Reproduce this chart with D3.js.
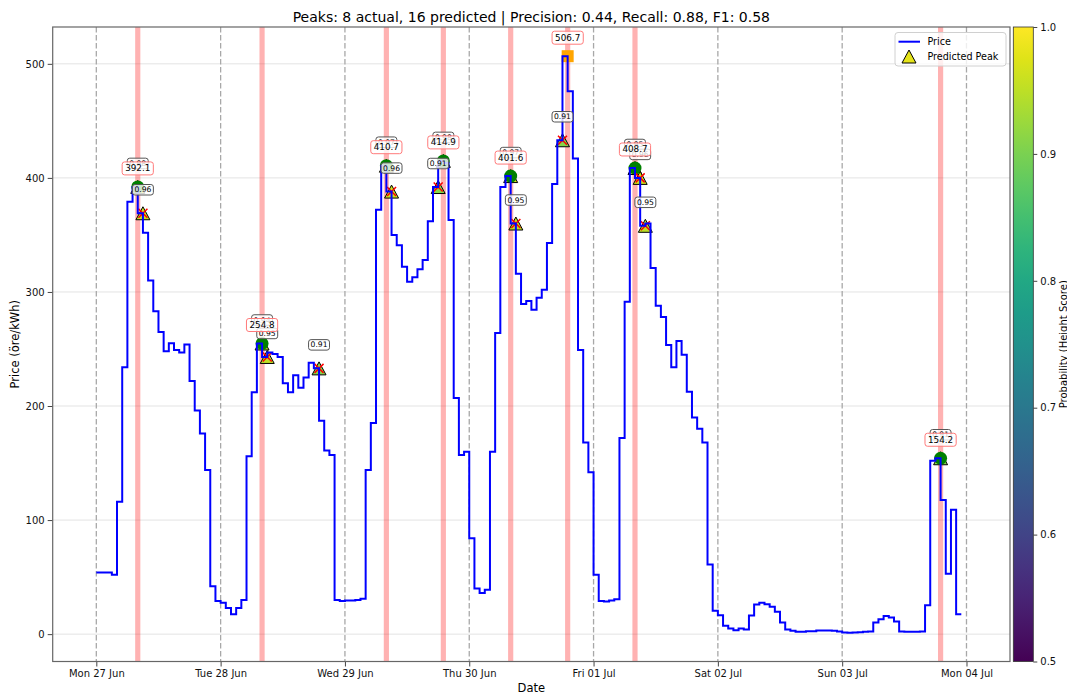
<!DOCTYPE html>
<html>
<head>
<meta charset="utf-8">
<script src="https://cdn.jsdelivr.net/npm/d3@7"></script>
<style>
  body { margin: 0; background: #fff; }
  text { font-family: "DejaVu Sans", sans-serif; }
</style>
</head>
<body>
<div id="chart"></div>
<script>
// size of the page / figure
const width = 1067
const height = 695

// hourly price (öre/kWh), Mon 27 Jun 00:00 .. Sun 03 Jul 23:00
const prices = [
  54, 54, 54, 54, 52, 116, 234, 379, 392.1, 369, 352, 310, 283, 265, 248, 255, 249, 247, 254, 222, 196, 176, 144, 42,
  29, 27.5, 23, 17.5, 23, 30, 156, 212, 254.8, 243, 247, 245.5, 243, 220, 212, 227, 216, 225, 238, 233, 187, 161, 157, 30,
  29, 29.5, 29.5, 30, 31, 144, 185, 372, 410.7, 388, 350, 341, 322, 309, 313, 320, 328, 362, 392, 414.9, 413, 363, 207, 157,
  160, 84, 40, 36, 39, 160, 264, 392, 401.6, 360, 316, 289.5, 292, 284.5, 295, 302, 343, 394.7, 433, 506.7, 476, 417, 249, 168,
  142, 52, 29, 28.5, 29.5, 30.5, 172, 291.5, 408.7, 400, 358, 360, 321, 288, 278, 253.5, 234, 257, 245, 212.5, 190, 180, 168, 61,
  20.5, 16.5, 7.3, 5, 3.5, 5, 4, 16.4, 26, 27.5, 26.3, 24, 19.6, 10.3, 4, 3, 2, 2, 2.6, 2.6, 3.2, 3.2, 3.1, 3.0,
  2.3, 1.5, 1.3, 1.5, 1.7, 2, 2.2, 10.3, 13, 16, 14.5, 11, 2.2, 2.0, 2.0, 2.1, 2.3, 25.4, 152, 154.2, 117.5, 53, 109, 17.5
]

// actual peaks (hour index) and whether they were found
const peakHours = [8, 32, 56, 67, 80, 91, 104, 163]
const peakFound = [true, true, true, true, true, false, true, true]

// predicted peaks (hour index), probability, and whether it hit an actual peak
const predHours = [8, 9, 32, 33, 43, 56, 57, 66, 67, 80, 81, 90, 104, 105, 106, 163]
const predProbs = [0.98, 0.96, 0.94, 0.95, 0.91, 0.97, 0.96, 0.91, 0.98, 0.97, 0.95, 0.91, 0.95, 0.96, 0.95, 0.91]
const predHit = [true, false, true, false, false, true, false, false, true, true, false, false, true, false, false, true]

// axis ticks
const yTicks = [0, 100, 200, 300, 400, 500]
const dayTicks = [0, 24, 48, 72, 96, 120, 144, 168]
const cbTicks = [0.5, 0.6, 0.7, 0.8, 0.9, 1.0]

const start = Date.UTC(2022, 5, 27)
const hourDate = h => new Date(start + h * 3600e3)

// plot box
const L = 52.7, R = 1010, T = 27, B = 661.5

var x = d3.scaleUtc()
  .domain([hourDate(-8.42), hourDate(176.4)])
  .range([L, R])
var y = d3.scaleLinear()
  .domain([-24, 532.3])
  .range([B, T])
var color = d3.scaleSequential(d3.interpolateViridis).domain([0.5, 1.0])

// metrics for the title
const tp = predHit.filter(d => d).length
const precision = tp / predHours.length
const recall = tp / peakHours.length
const f1 = 2 * precision * recall / (precision + recall)

var svg = d3.select("#chart").append("svg")
  .attr("width", width)
  .attr("height", height)

svg.append("rect").attr("width", width).attr("height", height).attr("fill", "white")

var clip = svg.append("clipPath").attr("id", "plotclip")
clip.append("rect").attr("x", L).attr("y", T).attr("width", R - L).attr("height", B - T)

var plot = svg.append("g").attr("clip-path", "url(#plotclip)")

// horizontal grid
plot.selectAll(".hgrid").data(yTicks).enter().append("line")
  .attr("x1", L).attr("x2", R)
  .attr("y1", d => y(d)).attr("y2", d => y(d))
  .attr("stroke", "#e3e3e3").attr("stroke-width", 1)

// red bands at actual peaks
plot.selectAll(".band").data(peakHours).enter().append("rect")
  .attr("x", d => x(hourDate(d - 0.5)))
  .attr("width", d => x(hourDate(d + 0.5)) - x(hourDate(d - 0.5)))
  .attr("y", T).attr("height", B - T)
  .attr("fill", "red").attr("fill-opacity", 0.3)

// predicted triangles
const tri = "M0,-6.5L7,6.5L-7,6.5Z"
plot.selectAll(".tri").data(predHours).enter().append("path")
  .attr("d", tri)
  .attr("transform", d => `translate(${x(hourDate(d))},${y(prices[d])})`)
  .attr("fill", (d, i) => color(predProbs[i]))
  .attr("stroke", "black").attr("stroke-width", 1)

// actual peak markers: green circle if found, orange square if missed
peakHours.forEach(function(h, i) {
  var px = x(hourDate(h)), py = y(prices[h])
  if (peakFound[i]) {
    plot.append("circle").attr("cx", px).attr("cy", py).attr("r", 6.5).attr("fill", "green")
  } else {
    plot.append("rect").attr("x", px - 6).attr("y", py - 6).attr("width", 12).attr("height", 12).attr("fill", "orange")
  }
})

// red x on false positives
predHours.forEach(function(h, i) {
  if (predHit[i]) return
  var px = x(hourDate(h)), py = y(prices[h])
  plot.append("path")
    .attr("d", `M${px - 4.5},${py - 4.5}L${px + 4.5},${py + 4.5}M${px - 4.5},${py + 4.5}L${px + 4.5},${py - 4.5}`)
    .attr("stroke", "red").attr("stroke-width", 1.5)
})

// day separators
plot.selectAll(".day").data(dayTicks).enter().append("line")
  .attr("x1", d => x(hourDate(d))).attr("x2", d => x(hourDate(d)))
  .attr("y1", T).attr("y2", B)
  .attr("stroke", "#a8a8a8").attr("stroke-width", 1.3).attr("stroke-dasharray", "5.5,2.5")

// price line
var line = d3.line()
  .x((d, i) => x(hourDate(i)))
  .y(d => y(d))
  .curve(d3.curveStepBefore)
plot.append("path").datum(prices)
  .attr("d", line)
  .attr("fill", "none").attr("stroke", "#0000ff").attr("stroke-width", 2)

// boxed labels
function boxLabel(g, cx, cy, txt, size, edge, padX, boxH) {
  var grp = g.append("g")
  var r = grp.append("rect")
  var t = grp.append("text")
    .attr("x", cx).attr("y", cy)
    .attr("text-anchor", "middle").attr("dominant-baseline", "central")
    .attr("font-size", size).attr("fill", "black")
    .text(txt)
  var w = t.node().getComputedTextLength() + padX * 2
  r.attr("x", cx - w / 2).attr("y", cy - boxH / 2)
    .attr("width", w).attr("height", boxH)
    .attr("rx", 2.5).attr("ry", 2.5)
    .attr("fill", "white").attr("fill-opacity", 0.8)
    .attr("stroke", edge).attr("stroke-width", 1)
}

var labels = svg.append("g")
predHours.forEach(function(h, i) {
  boxLabel(labels, x(hourDate(h)), y(prices[h]) - 23.5, predProbs[i].toFixed(2), 7.6, "#555", 2, 10.5)
})
peakHours.forEach(function(h) {
  boxLabel(labels, x(hourDate(h)), y(prices[h]) - 18.5, prices[h].toFixed(1), 8.8, "#ff7a7a", 3, 13)
})

// axes
var yAxis = svg.append("g").attr("transform", `translate(${L},0)`)
  .call(d3.axisLeft(y).tickValues(yTicks).tickSize(5).tickPadding(3))
var xAxis = svg.append("g").attr("transform", `translate(0,${B})`)
  .call(d3.axisBottom(x).tickValues(dayTicks.map(hourDate)).tickSize(5).tickPadding(3.5)
    .tickFormat(d3.utcFormat("%a %d %b")))
;[yAxis, xAxis].forEach(function(a) {
  a.select(".domain").remove()
  a.selectAll("line").attr("stroke", "#444").attr("stroke-width", 1)
  a.selectAll("text").attr("font-size", 10).attr("fill", "#111").attr("font-family", "DejaVu Sans")
})

// spines
svg.append("rect").attr("x", L).attr("y", T).attr("width", R - L).attr("height", B - T)
  .attr("fill", "none").attr("stroke", "#666").attr("stroke-width", 1.2)

// titles
svg.append("text").attr("x", (L + R) / 2).attr("y", 21.5).attr("text-anchor", "middle")
  .attr("font-size", 14).attr("fill", "black")
  .text(`Peaks: ${peakHours.length} actual, ${predHours.length} predicted | Precision: ${precision.toFixed(2)}, Recall: ${recall.toFixed(2)}, F1: ${f1.toFixed(2)}`)
svg.append("text").attr("x", (L + R) / 2).attr("y", 692).attr("text-anchor", "middle")
  .attr("font-size", 11.5).attr("fill", "black").text("Date")
svg.append("text").attr("transform", `translate(15,${(T + B) / 2}) rotate(-90)`).attr("text-anchor", "middle")
  .attr("dominant-baseline", "central")
  .attr("font-size", 11.5).attr("fill", "black").text("Price (öre/kWh)")

// legend
var lg = svg.append("g")
lg.append("rect").attr("x", 895).attr("y", 32.5).attr("width", 111).attr("height", 33.5)
  .attr("rx", 3).attr("fill", "white").attr("fill-opacity", 0.8).attr("stroke", "#d0d0d0")
lg.append("line").attr("x1", 898.5).attr("x2", 920).attr("y1", 41.7).attr("y2", 41.7)
  .attr("stroke", "#0000ff").attr("stroke-width", 2)
lg.append("path").attr("d", tri).attr("transform", "translate(909,56.5)")
  .attr("fill", color(predProbs[0])).attr("stroke", "black")
lg.append("text").attr("x", 927.5).attr("y", 41.7).attr("dominant-baseline", "central")
  .attr("font-size", 9.6).text("Price")
lg.append("text").attr("x", 927.5).attr("y", 56.7).attr("dominant-baseline", "central")
  .attr("font-size", 9.6).text("Predicted Peak")

// colorbar
const cbX = 1013.3, cbW = 20
var grad = svg.append("defs").append("linearGradient").attr("id", "vir")
  .attr("x1", 0).attr("y1", 1).attr("x2", 0).attr("y2", 0)
d3.range(0, 1.0001, 0.05).forEach(function(t) {
  grad.append("stop").attr("offset", t).attr("stop-color", d3.interpolateViridis(t))
})
svg.append("rect").attr("x", cbX).attr("y", T).attr("width", cbW).attr("height", B - T)
  .attr("fill", "url(#vir)").attr("stroke", "#333").attr("stroke-width", 0.8)
var cbScale = d3.scaleLinear().domain([0.5, 1.0]).range([B, T])
var cbAxis = svg.append("g").attr("transform", `translate(${cbX + cbW},0)`)
  .call(d3.axisRight(cbScale).tickValues(cbTicks).tickSize(4).tickPadding(3).tickFormat(d3.format(".1f")))
cbAxis.select(".domain").remove()
cbAxis.selectAll("line").attr("stroke", "#444")
cbAxis.selectAll("text").attr("font-size", 10).attr("fill", "#111").attr("font-family", "DejaVu Sans")
svg.append("text").attr("transform", `translate(1063,${(T + B) / 2}) rotate(-90)`).attr("text-anchor", "middle")
  .attr("dominant-baseline", "central")
  .attr("font-size", 10).attr("fill", "black").text("Probability (Height Score)")
</script>
</body>
</html>
